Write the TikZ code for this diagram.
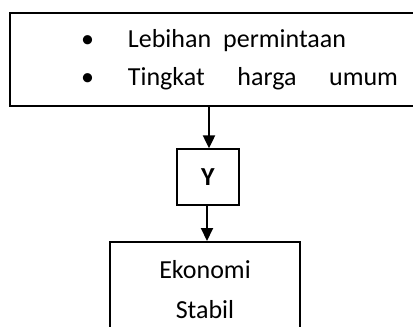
\documentclass[tikz,border=0pt]{standalone}
\usepackage{fontspec}
\setmainfont{Carlito}
\usepackage{tikz}
\usetikzlibrary{arrows.meta,positioning}

\begin{document}
\begin{tikzpicture}[x=1pt,y=-1pt,>={Triangle[width=12pt,length=13pt]},
		kotak/.style={draw,rectangle,inner sep=0pt,font=\fontsize{26}{38}\selectfont},
		panah/.style={->,line width=2pt}]
		\useasboundingbox (0,0) rectangle (413,327);
		\clip (0,0) rectangle (413,327);
		\node[kotak,line width=2pt,anchor=north west,minimum width=459,minimum height=93,
			align=left,text width=317] (sebab) at (9,12)
			{\makebox[47pt][l]{\textbullet}Lebihan\hspace{12pt}permintaan\\
			 \makebox[47pt][l]{\textbullet}\makebox[270pt][s]{Tingkat\hfill harga\hfill umum}};
		\node[kotak,line width=1.3pt,minimum width=62,minimum height=56,font=\fontsize{26}{30}\selectfont\bfseries] (y) at (208,177) {Y};
		\node[kotak,line width=1.5pt,anchor=north,minimum width=190,minimum height=96,
			align=center,font=\fontsize{26}{40}\selectfont] (hasil) at (205,241) {Ekonomi\\Stabil};
		\path[panah]
			(sebab.south -| 209,0) edge (y.north -| 209,0)
			(y.south -| 207,0) edge (hasil.north -| 207,0);
	\end{tikzpicture}
\end{document}
